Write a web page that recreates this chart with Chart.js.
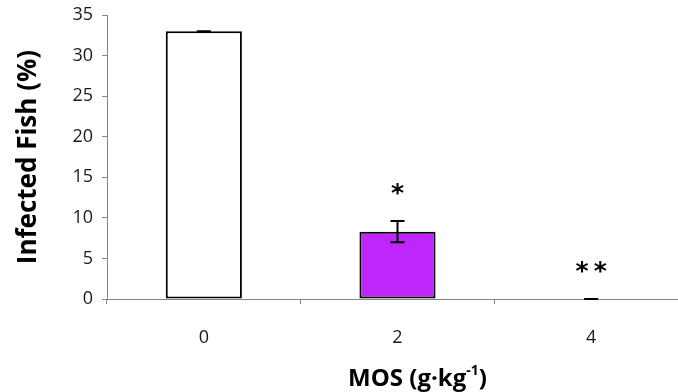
<!DOCTYPE html>
<html>
<head>
<meta charset="utf-8">
<script src="https://cdn.jsdelivr.net/npm/chart.js@4.4.1/dist/chart.umd.min.js"></script>
<style>
  html, body { margin: 0; padding: 0; background: #fff; overflow: hidden; }
  #wrap { width: 700px; height: 392px; }
</style>
</head>
<body>
<div id="wrap"><canvas id="chart"></canvas></div>
<script>
// MOS dose groups and infected fish (%)
const doses = ['0', '2', '4'];
const infected = [33, 8.3, 0];
const errors = [0, 1.3, 0];
const signif = ['', '*', '**'];
const barColors = ['#ffffff', '#bf26fc', '#bf26fc'];
const yTicks = [0, 5, 10, 15, 20, 25, 30, 35];

const axisGrey = '#868686';
const font = "'Open Sans', 'Liberation Sans', sans-serif";

// error bars + significance stars
const extras = {
    id: 'extras',
    afterDatasetsDraw(chart) {
        const ctx = chart.ctx;
        const y = chart.scales.y;
        const meta = chart.getDatasetMeta(0);
        ctx.save();
        ctx.strokeStyle = '#000';
        ctx.lineWidth = 2;
        meta.data.forEach((bar, i) => {
            const x = bar.x;
            const hi = y.getPixelForValue(infected[i] + errors[i]);
            const lo = y.getPixelForValue(infected[i] - errors[i]);
            ctx.beginPath();
            ctx.moveTo(x, hi); ctx.lineTo(x, lo);
            ctx.moveTo(x - 7, hi); ctx.lineTo(x + 7, hi);
            ctx.moveTo(x - 7, lo); ctx.lineTo(x + 7, lo);
            ctx.stroke();
            if (signif[i]) {
                ctx.fillStyle = '#000';
                ctx.font = 'bold 25px "DejaVu Sans", sans-serif';
                ctx.textAlign = 'center';
                ctx.textBaseline = 'middle';
                ctx.fillText(signif[i].split('').join('\u2009'), x, hi - 27);
            }
        });
        ctx.restore();
    },
    afterDraw(chart) {
        const ctx = chart.ctx;
        const a = chart.chartArea;
        ctx.save();
        ctx.fillStyle = '#000';
        ctx.textBaseline = 'alphabetic';
        const main = 'bold 24px ' + font;
        const sup = 'bold 14px ' + font;
        ctx.font = main;
        const w1 = ctx.measureText('MOS (g·kg').width;
        const w3 = ctx.measureText(')').width;
        ctx.font = sup;
        const w2 = ctx.measureText('-1').width;
        const total = w1 + w2 + w3;
        let x = (a.left + a.right) / 2 + 20 - total / 2;
        const base = 386;
        ctx.textAlign = 'left';
        ctx.font = main;
        ctx.fillText('MOS (g·kg', x, base);
        x += w1;
        ctx.font = sup;
        ctx.fillText('-1', x, base - 11);
        x += w2;
        ctx.font = main;
        ctx.fillText(')', x, base);
        ctx.restore();
    }
};

new Chart(document.getElementById('chart'), {
    type: 'bar',
    data: {
        labels: doses,
        datasets: [{
            data: infected,
            backgroundColor: barColors,
            borderColor: '#000',
            borderWidth: 2,
            borderSkipped: false,
            categoryPercentage: 1,
            barPercentage: 0.393
        }]
    },
    options: {
        responsive: true,
        maintainAspectRatio: false,
        animation: false,
        layout: { padding: { top: 15, right: 12, bottom: 0, left: 0 } },
        plugins: {
            legend: { display: false },
            tooltip: { enabled: false }
        },
        scales: {
            x: {
                grid: { display: true, drawOnChartArea: false, color: axisGrey, tickLength: 5, offset: true },
                border: { display: true, color: axisGrey, width: 1 },
                ticks: { color: '#1a1a1a', font: { family: font, size: 18 }, padding: 23 },
                afterFit: (s) => { s.height = 93; }
            },
            y: {
                min: 0,
                max: 35,
                afterBuildTicks: (s) => { s.ticks = yTicks.map(v => ({ value: v })); },
                grid: { display: true, drawOnChartArea: false, color: axisGrey, tickLength: 5 },
                border: { display: true, color: axisGrey, width: 1 },
                ticks: { color: '#1a1a1a', font: { family: font, size: 18 }, padding: 9 },
                title: {
                    display: true,
                    text: 'Infected Fish (%)',
                    color: '#000',
                    font: { family: font, size: 26, weight: 'bold' },
                    padding: { top: 13, bottom: 5 }
                },
                afterFit: (s) => { s.width = 107; s.paddingTop = 0; s.paddingBottom = 0; }
            }
        }
    },
    plugins: [extras]
});
</script>
</body>
</html>
